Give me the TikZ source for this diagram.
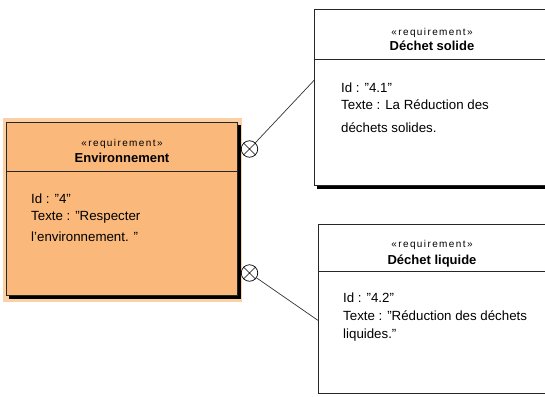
\documentclass[tikz,border=0pt]{standalone}
\usepackage{fontspec}
\setmainfont{Liberation Sans}
\definecolor{reqorange}{RGB}{250,184,122}
\definecolor{reqhalo}{RGB}{252,208,165}
\begin{document}
\begin{tikzpicture}[x=1pt,y=-1pt,
  reqbox/.style={draw=black!85, line width=0.8pt, inner sep=0pt, anchor=north west, rectangle},
  shadowline/.style={draw=black, line width=2.4pt},
  sepline/.style={draw=black!85, line width=0.8pt},
  stereo/.style={anchor=base, inner sep=0pt, font=\fontsize{10}{12}\selectfont\addfontfeatures{LetterSpace=14}},
  title/.style={anchor=base, inner sep=0pt, font=\fontsize{13}{15}\selectfont\bfseries},
  body/.style={anchor=base west, inner sep=0pt, font=\fontsize{13.3}{15}\selectfont},
  xcirc/.style={circle, draw=black, fill=white, line width=0.7pt, minimum size=16.5pt, inner sep=0pt},
  conn/.style={draw=black!80, line width=0.7pt}]
\useasboundingbox (0,0) rectangle (545,396);
\clip (0,0) rectangle (545,396);
\fill[white] (0,0) rectangle (545,396);

% parent requirement
\fill[reqhalo] (3,118) rectangle (242,302);
\node[reqbox, fill=reqorange, minimum width=231pt, minimum height=173pt] (env) at (6,122) {};
\draw[shadowline] ([xshift=1.6pt,yshift=-3pt]env.north east) -- ([xshift=1.6pt,yshift=-1.6pt]env.south east) -- ([xshift=3pt,yshift=-1.6pt]env.south west);
\draw[sepline] ([yshift=-49pt]env.north west) -- ([yshift=-49pt]env.north east);
\node[stereo] (envst) at (122,146) {«requirement»};
\node[title] (envti) at (122,162) {Environnement};
\node[body] (envid) at (31,203) {Id : "4"};
\node[body] (envtx) at (31,220) {Texte : "Respecter};
\node[body] (envtx2) at (31,241) {l'environnement. "};

% sub-requirement: solid waste
\node[reqbox, fill=white, minimum width=236pt, minimum height=176pt] (sol) at (314,9) {};
\draw[shadowline] ([xshift=3pt,yshift=-1.6pt]sol.south west) -- ([yshift=-1.6pt]sol.south east);
\draw[sepline] ([yshift=-50pt]sol.north west) -- ([yshift=-50pt]sol.north east);
\node[stereo] (solst) at (432,35) {«requirement»};
\node[title] (solti) at (432,50) {Déchet solide};
\node[body] (solid) at (341,92) {Id : "4.1"};
\node[body] (soltx) at (341,109) {Texte : La Réduction des};
\node[body] (soltx2) at (341,132) {déchets solides.};

% sub-requirement: liquid waste
\node[reqbox, fill=white, minimum width=232pt, minimum height=169pt] (liq) at (318,224) {};
\draw[sepline] ([yshift=-47pt]liq.north west) -- ([yshift=-47pt]liq.north east);
\node[stereo] (liqst) at (432,247) {«requirement»};
\node[title] (liqti) at (432,264) {Déchet liquide};
\node[body] (liqid) at (343,302) {Id : "4.2"};
\node[body] (liqtx) at (343,320) {Texte : "Réduction des déchets};
\node[body] (liqtx2) at (343,338) {liquides."};

% containment connectors
\node[xcirc] (k1) at (249.5,149) {};
\node[xcirc] (k2) at (249.5,273) {};
\draw[line width=0.6pt] (k1.north west) -- (k1.south east) (k1.north east) -- (k1.south west);
\draw[line width=0.6pt] (k2.north west) -- (k2.south east) (k2.north east) -- (k2.south west);
\draw[conn] (k1) -- ([yshift=17pt]sol.west);
\draw[conn] (k2) -- ([yshift=-11.5pt]liq.west);
\end{tikzpicture}
\end{document}
